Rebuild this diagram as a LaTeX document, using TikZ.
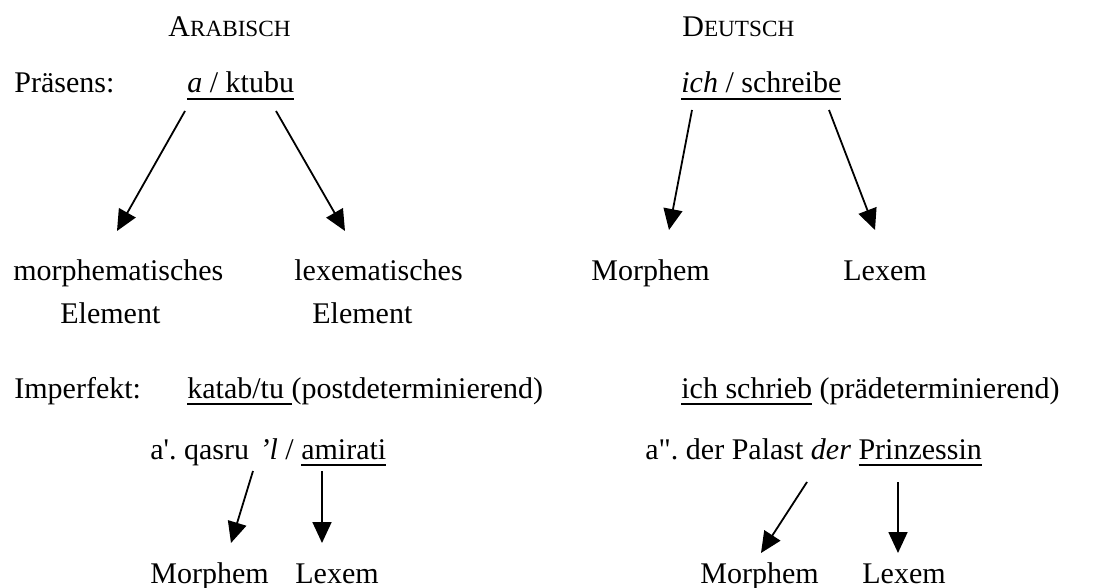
\documentclass[tikz,border=0pt]{standalone}
\usepackage{fontspec}
\setmainfont{Liberation Serif}
\usetikzlibrary{arrows.meta}
\frenchspacing
\newsavebox\myulbox
\newcommand{\myul}[1]{\sbox\myulbox{#1}\rlap{\rule[-3.6pt]{\wd\myulbox}{1.1pt}}\usebox\myulbox}
\newcommand{\smc}[2]{#1{\fontsize{11.6}{14}\selectfont #2}}
\begin{document}
\begin{tikzpicture}[x=0.5pt,y=-0.5pt,
  txt/.style={inner sep=0pt, anchor=base west, font=\fontsize{15}{18}\selectfont\frenchspacing},
  arr/.style={-{Triangle[length=10.5pt,width=9.5pt]}, line width=0.9pt}]
\useasboundingbox (0,0) rectangle (1098,588);
% headings
\node[txt] (arH) at (168,37) {\smc{A}{RABISCH}};
\node[txt] (deH) at (682,37) {\smc{D}{EUTSCH}};
% Praesens row
\node[txt] (praes) at (14,93) {Präsens:};
\node[txt] (ktubu) at (187,93) {\myul{\textit{a} / ktubu}};
\node[txt] (schreibe) at (681,93) {\myul{\textit{ich} / schreibe}};
% targets
\node[txt] (morphEl) at (13,281) {morphematisches};
\node[txt] (morphEl2) at (60,323) {Element};
\node[txt] (lexEl) at (294,281) {lexematisches};
\node[txt] (lexEl2) at (312,323) {Element};
\node[txt] (morphD) at (591,281) {Morphem};
\node[txt] (lexD) at (843,281) {Lexem};
% Imperfekt row
\node[txt] (imperf) at (14,398) {Imperfekt:};
\node[txt] (katab) at (187,398) {\myul{katab/tu }(postdeterminierend)};
\node[txt] (schrieb) at (681,398) {\myul{ich schrieb} (prädeterminierend)};
% examples
\node[txt] (qasru) at (150,459) {a\textquotesingle. qasru\hspace{1.5pt} \textit{’l} / \myul{amirati}};
\node[txt] (palast) at (645,459) {a\textquotedbl. der Palast \textit{der} \myul{Prinzessin}};
\node[txt] (morphA2) at (150,583) {Morphem};
\node[txt] (lexA2) at (295,583) {Lexem};
\node[txt] (morphD2) at (700,583) {Morphem};
\node[txt] (lexD2) at (862,583) {Lexem};
% arrow end points
\coordinate (s1) at (185,111); \coordinate (t1) at (117,231);
\coordinate (s2) at (276,111); \coordinate (t2) at (345,231);
\coordinate (s3) at (692,110); \coordinate (t3) at (669,230);
\coordinate (s4) at (829,110); \coordinate (t4) at (875,230);
\coordinate (s5) at (253,471); \coordinate (t5) at (231,543);
\coordinate (s6) at (322,471); \coordinate (t6) at (322,543);
\coordinate (s7) at (807,482); \coordinate (t7) at (761,553);
\coordinate (s8) at (898,482); \coordinate (t8) at (898,553);
\draw[arr] (s1) -- (t1);
\draw[arr] (s2) -- (t2);
\draw[arr] (s3) -- (t3);
\draw[arr] (s4) -- (t4);
\draw[arr] (s5) -- (t5);
\draw[arr] (s6) -- (t6);
\draw[arr] (s7) -- (t7);
\draw[arr] (s8) -- (t8);
\end{tikzpicture}
\end{document}
